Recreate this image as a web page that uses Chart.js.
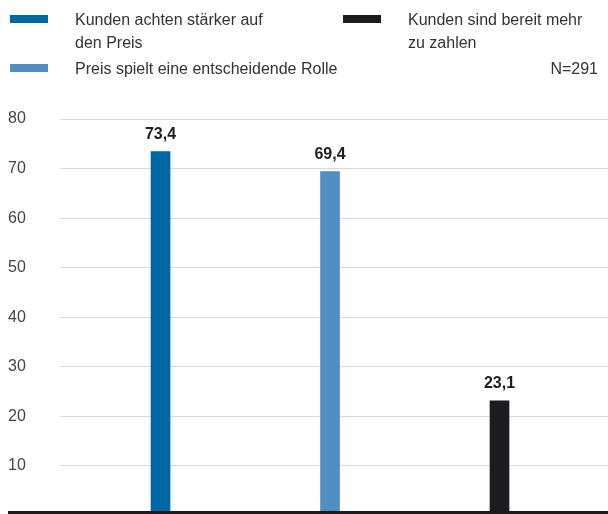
<!DOCTYPE html>
<html lang="de">
<head>
<meta charset="utf-8">
<script src="https://cdn.jsdelivr.net/npm/chart.js@4.4.1/dist/chart.umd.min.js"></script>
<style>
  html, body { margin: 0; padding: 0; background: #fff; }
  #wrap { position: relative; width: 608px; height: 514px; overflow: hidden; font-family: "Liberation Sans", Arial, sans-serif; }
  #chart { position: absolute; left: 0; top: 0; }
  .leg { position: absolute; font-size: 16px; line-height: 23px; color: #333; }
  .swatch { position: absolute; width: 38px; height: 8px; }
  #note { position: absolute; right: 10px; top: 57px; font-size: 16px; line-height: 23px; color: #333; }
</style>
</head>
<body>
<div id="wrap">
  <canvas id="chart" width="608" height="525"></canvas>
  <div id="legend"></div>
  <div id="note">N=291</div>
</div>
<script>
// Survey answers and their shares in percent
const categories = [
  "Kunden achten stärker auf den Preis",
  "Preis spielt eine entscheidende Rolle",
  "Kunden sind bereit mehr zu zahlen"
];
const legendLines = [
  ["Kunden achten stärker auf", "den Preis"],
  ["Preis spielt eine entscheidende Rolle"],
  ["Kunden sind bereit mehr", "zu zahlen"]
];
const values = [73.4, 69.4, 23.1];
const colors = ["#0067a5", "#518ec2", "#1c1b1d"];
const yTicks = [0, 10, 20, 30, 40, 50, 60, 70, 80];

const fmt = v => v.toFixed(1).replace(".", ",");

// Legend: two columns, wrapped labels
const legendPos = [
  { sx: 10, sy: 15, tx: 75, ty: 8 },
  { sx: 10, sy: 64, tx: 75, ty: 57 },
  { sx: 343, sy: 15, tx: 408, ty: 8 }
];
const legendEl = document.getElementById("legend");
categories.forEach((c, i) => {
  const p = legendPos[i];
  const sw = document.createElement("div");
  sw.className = "swatch";
  sw.style.left = p.sx + "px"; sw.style.top = p.sy + "px";
  sw.style.background = colors[i];
  legendEl.appendChild(sw);
  const t = document.createElement("div");
  t.className = "leg";
  t.style.left = p.tx + "px"; t.style.top = p.ty + "px";
  t.innerHTML = legendLines[i].join("<br>");
  legendEl.appendChild(t);
});

// Value labels above the bars
const valueLabels = {
  id: "valueLabels",
  afterDatasetsDraw(chart) {
    const ctx = chart.ctx;
    ctx.save();
    ctx.font = "bold 16px 'Liberation Sans', Arial, sans-serif";
    ctx.fillStyle = "#1e1e1e";
    ctx.textAlign = "center";
    ctx.textBaseline = "bottom";
    chart.data.datasets.forEach((ds, i) => {
      chart.getDatasetMeta(i).data.forEach((bar, j) => {
        ctx.fillText(fmt(ds.data[j].y), bar.x, bar.y - 9);
      });
    });
    ctx.restore();
  }
};

// Heavy black baseline under the bars
const baseline = {
  id: "baseline",
  afterDatasetsDraw(chart) {
    const ctx = chart.ctx;
    const y = Math.min(chart.scales.y.getPixelForValue(0), 514);
    ctx.save();
    ctx.strokeStyle = "#1a1a1a";
    ctx.lineWidth = 3;
    ctx.beginPath();
    ctx.moveTo(8, y - 1.5);
    ctx.lineTo(chart.width, y - 1.5);
    ctx.stroke();
    ctx.restore();
  }
};

new Chart(document.getElementById("chart"), {
  type: "bar",
  data: {
    datasets: categories.map((c, i) => ({
      label: c,
      data: [{ x: i + 1, y: values[i] }],
      backgroundColor: colors[i],
      barThickness: 19,
      grouped: false
    }))
  },
  options: {
    responsive: false,
    animation: false,
    layout: { padding: { left: 8, top: 119, right: 0, bottom: 0 } },
    plugins: { legend: { display: false }, tooltip: { enabled: false } },
    scales: {
      x: {
        type: "linear",
        offset: false,
        min: 0.407,
        max: 3.64,
        display: false
      },
      y: {
        min: 0,
        max: 80,
        afterFit(scale) { scale.width = 52; },
        afterBuildTicks(scale) { scale.ticks = yTicks.map(v => ({ value: v })); },
        border: { display: false },
        grid: { color: "#d9d9d9", lineWidth: 1, drawTicks: false },
        ticks: {
          crossAlign: "far",
          padding: 0,
          color: "#444",
          font: { size: 16, family: "'Liberation Sans', Arial, sans-serif" },
          callback: v => (v === 0 ? "" : v)
        }
      }
    }
  },
  plugins: [valueLabels, baseline]
});
</script>
</body>
</html>
